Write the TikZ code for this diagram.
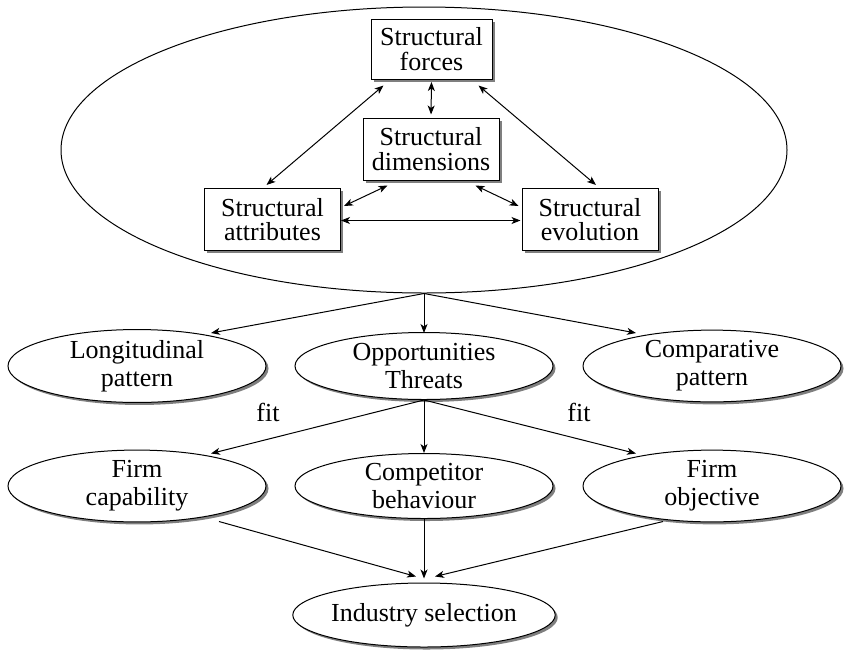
\documentclass[tikz,border=0pt]{standalone}
\usepackage{fontspec}
\setmainfont{Liberation Serif}
\usetikzlibrary{shapes.geometric,shadows,arrows.meta,calc}

\tikzset{
  every node/.style={font=\fontsize{26}{24.5}\selectfont},
  shade/.style={drop shadow={shadow xshift=2.5pt,shadow yshift=-2.5pt,fill=black,opacity=0.5}},
  sbox/.style={draw,rectangle,line width=1pt,fill=white,shade,align=center,inner sep=0pt},
  oval/.style={draw,ellipse,line width=1pt,fill=white,shade,align=center,inner sep=0pt,
               minimum width=258pt,font=\fontsize{26}{28}\selectfont},
  tip/.style={Stealth[length=9pt,width=7pt,inset=2.5pt]},
  link/.style={line width=1pt,-{Stealth[length=9pt,width=7pt,inset=2.5pt]}},
  both/.style={line width=1pt,{Stealth[length=9pt,width=7pt,inset=2.5pt]}-{Stealth[length=9pt,width=7pt,inset=2.5pt]}},
}

\begin{document}
\begin{tikzpicture}[x=1pt,y=-1pt]
\useasboundingbox (0,0) rectangle (845,651);

% industry structure container
\node[draw,ellipse,line width=1pt,minimum width=726pt,minimum height=286pt,inner sep=0pt]
  (ind) at (424,150) {};

% structural components
\node[sbox,minimum width=121pt,minimum height=60pt] (forces) at (431.5,49) {Structural\\forces};
\node[sbox,minimum width=136pt,minimum height=62pt] (dims) at (431,149) {Structural\\dimensions};
\node[sbox,minimum width=136pt,minimum height=62pt] (attr) at (272.5,219.5) {Structural\\attributes};
\node[sbox,minimum width=136pt,minimum height=62pt] (evol) at (590,219.5) {Structural\\evolution};

\draw[both,shorten <=2.5pt,shorten >=3pt] (forces.south) -- (dims.north);
\draw[both] ($(forces.south west)+(13,6)$) -- ($(attr.north)+(-6,-3)$);
\draw[both] ($(forces.south east)+(-14,6)$) -- ($(evol.north)+(6,-3)$);
\draw[both] ($(dims.south west)+(25,5)$) -- ($(attr.north east)+(3,18)$);
\draw[both] ($(dims.south east)+(-24,5)$) -- ($(evol.north west)+(-3,18)$);
\draw[both] ($(attr.east)+(0,1)$) -- ($(evol.west)+(-1,1)$);

% analysis outcomes
\node[oval,minimum height=67pt] (lon) at (137,366) {Longitudinal\\pattern};
\node[oval,minimum height=67pt] (opp) at (424,366) {Opportunities\\Threats};
\node[oval,minimum height=67pt] (cmp) at (712,366) {Comparative\\pattern};

\draw[link] (ind.south) -- ($(lon.center)+(74,-33)$);
\draw[link] (ind.south) -- ($(opp.north)+(0,1)$);
\draw[link] (ind.south) -- ($(cmp.center)+(-76,-33)$);

% fit with firm and competitors
\node[oval,minimum height=65pt] (cap) at (137,486) {Firm\\capability};
\node[oval,minimum height=65pt] (comp) at (424,486) {Competitor\\behaviour};
\node[oval,minimum height=65pt] (obj) at (712,486) {Firm\\objective};

\draw[link] (opp.south) -- ($(cap.center)+(74,-32.5)$);
\draw[link] (opp.south) -- (comp.north);
\draw[link] (opp.south) -- ($(obj.center)+(-76,-32.5)$);

\node (fitl) at (268,412) {fit};
\node (fitr) at (579,412) {fit};

% final choice
\node[oval,minimum height=64pt] (sel) at (424,615) {Industry selection};

\draw[link] ($(cap.center)+(82,35.5)$) -- ($(sel.north)+(-8,-6)$);
\draw[link] (comp.south) -- ($(sel.north)+(0,-4)$);
\draw[link] ($(obj.center)+(-49,35.5)$) -- ($(sel.north)+(11,-6)$);
\end{tikzpicture}
\end{document}
